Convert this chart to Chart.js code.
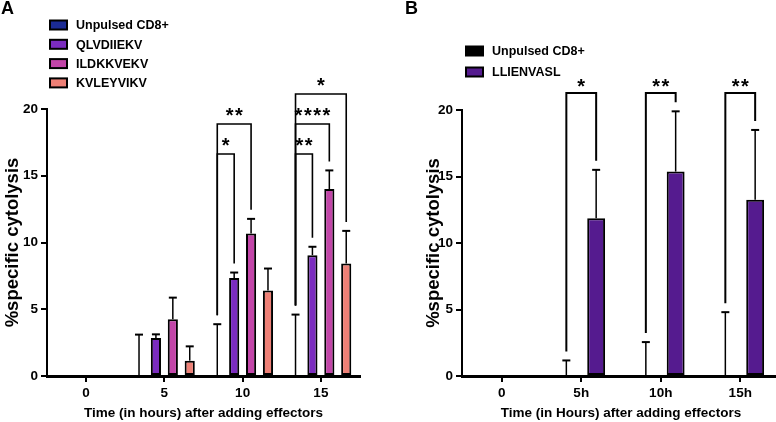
<!DOCTYPE html>
<html><head><meta charset="utf-8">
<script src="https://cdn.jsdelivr.net/npm/chart.js@4.4.1/dist/chart.umd.min.js"></script>
<style>
html,body{margin:0;padding:0;background:#fff;overflow:hidden;width:776px;height:422px;}
#wrap{position:relative;width:776px;height:422px;overflow:hidden;}
#cA{position:absolute;left:0;top:0;}
#cB{position:absolute;left:388px;top:0;}
</style></head><body><div id="wrap"><canvas id="cA" width="388" height="422"></canvas><canvas id="cB" width="420" height="422"></canvas></div>
<script>
const FONT = "'Liberation Sans', Arial, Helvetica, sans-serif";

// ---------- Panel A data ----------
const categoriesA = ['0', '5', '10', '15'];
const unpulsedA    = [null, 0, 0, 0];
const unpulsedA_sd = [null, 3.1, 3.88, 4.6];
const qlvA         = [null, 2.85, 7.35, 9.05];
const qlvA_sd      = [null, 0.27, 0.4, 0.63];
const ildA         = [null, 4.25, 10.67, 14.0];
const ildA_sd      = [null, 1.62, 1.1, 1.4];
const kvlA         = [null, 1.15, 6.4, 8.42];
const kvlA_sd      = [null, 1.07, 1.65, 2.45];
const sigA = [
  {cat: '10', a: 0, b: 1, tier: 0, label: '*'},
  {cat: '10', a: 0, b: 2, tier: 1, label: '**'},
  {cat: '15', a: 0, b: 1, tier: 0, label: '**'},
  {cat: '15', a: 0, b: 2, tier: 1, label: '****'},
  {cat: '15', a: 0, b: 3, tier: 2, label: '*'}
];

// ---------- Panel B data ----------
const categoriesB = ['0', '5h', '10h', '15h'];
const unpulsedB    = [null, 0, 0, 0];
const unpulsedB_sd = [null, 1.17, 2.55, 4.8];
const llB          = [null, 11.87, 15.37, 13.25];
const llB_sd       = [null, 3.63, 4.53, 5.25];
const sigB = [
  {cat: '5h',  a: 0, b: 1, tier: 0, label: '*'},
  {cat: '10h', a: 0, b: 1, tier: 0, label: '**'},
  {cat: '15h', a: 0, b: 1, tier: 0, label: '**'}
];

// shared y axis
const yMin = 0, yMax = 20, yStep = 5;

// ---------- plugins ----------
const errorBars = {
  id: 'errorBars',
  afterDatasetsDraw(chart, args, o) {
    const ctx = chart.ctx, y = chart.scales.y;
    ctx.save();
    ctx.strokeStyle = '#000';
    chart.data.datasets.forEach((ds, i) => {
      const meta = chart.getDatasetMeta(i);
      meta.data.forEach((el, j) => {
        const v = ds.data[j], sd = ds.sd[j];
        if (v == null || sd == null) return;
        const yt = y.getPixelForValue(v + sd);
        ctx.lineWidth = o.lineWidth;
        ctx.beginPath(); ctx.moveTo(el.x, el.y); ctx.lineTo(el.x, yt); ctx.stroke();
        ctx.lineWidth = o.capWidth;
        ctx.beginPath(); ctx.moveTo(el.x - o.cap / 2, yt); ctx.lineTo(el.x + o.cap / 2, yt); ctx.stroke();
      });
    });
    ctx.restore();
  }
};

const boxLegend = {
  id: 'boxLegend',
  afterDraw(chart, args, o) {
    const ctx = chart.ctx;
    ctx.save();
    chart.data.datasets.forEach((ds, i) => {
      const cy = o.y + i * o.dy;
      ctx.fillStyle = ds.backgroundColor;
      ctx.fillRect(o.x, cy - o.h / 2, o.w, o.h);
      ctx.lineWidth = 2; ctx.strokeStyle = '#000';
      ctx.strokeRect(o.x, cy - o.h / 2, o.w, o.h);
      ctx.fillStyle = '#000';
      ctx.font = 'bold ' + o.size + 'px ' + FONT;
      ctx.textBaseline = 'middle';
      ctx.fillText(ds.label, o.x + o.w + o.gap, cy + 1);
    });
    ctx.font = 'bold 18px ' + FONT;
    ctx.textBaseline = 'alphabetic';
    ctx.fillStyle = '#000';
    ctx.fillText(o.letter, o.lx, o.ly);
    ctx.restore();
  }
};

const brackets = {
  id: 'brackets',
  afterDraw(chart, args, o) {
    const ctx = chart.ctx, y = chart.scales.y, ds = chart.data.datasets;
    ctx.save();
    ctx.strokeStyle = '#000';
    ctx.fillStyle = '#000';
    ctx.lineWidth = o.lineWidth;
    ctx.font = 'bold 20px ' + FONT;
    ctx.textBaseline = 'alphabetic';
    const starW = ctx.measureText('*').width;
    o.items.forEach(it => {
      const ci = chart.data.labels.indexOf(it.cat);
      const ea = chart.getDatasetMeta(it.a).data[ci];
      const eb = chart.getDatasetMeta(it.b).data[ci];
      const ta = y.getPixelForValue(ds[it.a].data[ci] + ds[it.a].sd[ci]) - o.gap;
      const tb = y.getPixelForValue(ds[it.b].data[ci] + ds[it.b].sd[ci]) - o.gap;
      const yTop = chart.chartArea.top + o.top - it.tier * o.step;
      ctx.beginPath();
      ctx.moveTo(ea.x, ta); ctx.lineTo(ea.x, yTop); ctx.lineTo(eb.x, yTop); ctx.lineTo(eb.x, tb);
      ctx.stroke();
      const n = it.label.length, sp = 1.5;
      const total = n * starW + (n - 1) * sp;
      let x0 = (ea.x + eb.x) / 2 - total / 2;
      for (let k = 0; k < n; k++) {
        ctx.fillText('*', x0 + k * (starW + sp), yTop + o.labelDy);
      }
    });
    ctx.restore();
  }
};

function baseOptions(p) {
  return {
    responsive: false,
    animation: false,
    devicePixelRatio: 1,
    layout: {padding: p.padding},
    datasets: {bar: {categoryPercentage: p.catPct, barPercentage: 0.6, borderWidth: 2, borderColor: '#000', borderSkipped: false}},
    plugins: {
      legend: {display: false},
      tooltip: {enabled: false},
      errorBars: {lineWidth: 1.5, capWidth: 2, cap: 8},
      boxLegend: p.legend,
      brackets: p.brackets
    },
    scales: {
      x: {
        afterFit(s) { s.height = 46; },
        grid: {display: true, drawOnChartArea: false, drawTicks: true, tickLength: 6, color: '#000', lineWidth: 2, offset: false},
        border: {display: true, color: '#000', width: 3},
        ticks: {color: '#000', font: {size: 13.5, weight: 'bold', family: FONT}, padding: 3, maxRotation: 0},
        title: {display: true, text: p.xTitle, color: '#000', font: {size: 13.5, weight: 'bold', family: FONT}, padding: {top: 0, bottom: 1}}
      },
      y: {
        min: yMin, max: yMax,
        afterFit(s) { s.width = p.yWidth; },
        grid: {display: true, drawOnChartArea: false, drawTicks: true, tickLength: 6, color: '#000', lineWidth: 2},
        border: {display: true, color: '#000', width: 2},
        ticks: {stepSize: yStep, color: '#000', font: {size: 13.5, weight: 'bold', family: FONT}, padding: 3},
        title: {display: true, text: '%specific cytolysis', color: '#000', font: {size: 18.5, weight: 'bold', family: FONT}, padding: {top: 2, bottom: 0}}
      }
    }
  };
}

Chart.defaults.font.family = FONT;

new Chart(document.getElementById('cA'), {
  type: 'bar',
  data: {
    labels: categoriesA,
    datasets: [
      {label: 'Unpulsed CD8+', data: unpulsedA, sd: unpulsedA_sd, backgroundColor: '#1b2b94'},
      {label: 'QLVDIIEKV', data: qlvA, sd: qlvA_sd, backgroundColor: '#7b2cbf'},
      {label: 'ILDKKVEKV', data: ildA, sd: ildA_sd, backgroundColor: '#c245a8'},
      {label: 'KVLEYVIKV', data: kvlA, sd: kvlA_sd, backgroundColor: '#ee8076'}
    ]
  },
  options: baseOptions({
    padding: {top: 109, right: 28, bottom: 0, left: 0},
    catPct: 0.864,
    yWidth: 47,
    xTitle: 'Time (in hours) after adding effectors',
    legend: {x: 50, y: 25, dy: 19.3, w: 17, h: 9, gap: 9, size: 12.5, letter: 'A', lx: 1, ly: 14},
    brackets: {items: sigA, top: 45, step: 30, gap: 9, lineWidth: 1.6, labelDy: -2}
  }),
  plugins: [errorBars, boxLegend, brackets]
});

new Chart(document.getElementById('cB'), {
  type: 'bar',
  data: {
    labels: categoriesB,
    datasets: [
      {label: 'Unpulsed CD8+', data: unpulsedB, sd: unpulsedB_sd, backgroundColor: '#000000'},
      {label: 'LLIENVASL', data: llB, sd: llB_sd, backgroundColor: '#551b8f'}
    ]
  },
  options: baseOptions({
    padding: {top: 110, right: 28, bottom: 0, left: 33},
    catPct: 0.75,
    yWidth: 41,
    xTitle: 'Time (in Hours) after adding effectors',
    legend: {x: 78, y: 51, dy: 21, w: 17, h: 9, gap: 9, size: 12.5, letter: 'B', lx: 17, ly: 14},
    brackets: {items: sigB, top: -17, step: 30, gap: 9, lineWidth: 2, labelDy: 0}
  }),
  plugins: [errorBars, boxLegend, brackets]
});
</script>
</body></html>
